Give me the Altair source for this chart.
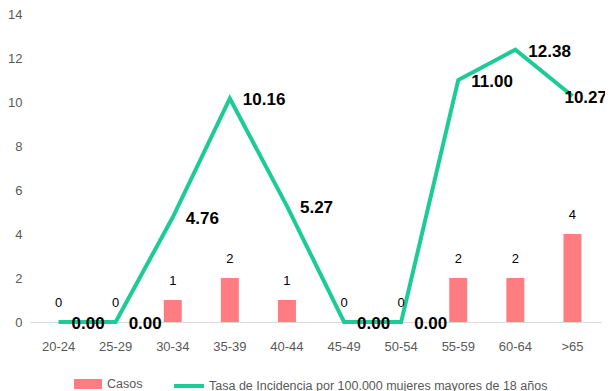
import altair as alt
import pandas as pd

grupos = ["20-24", "25-29", "30-34", "35-39", "40-44", "45-49", "50-54", "55-59", "60-64", ">65"]
casos = [0, 0, 1, 2, 1, 0, 0, 2, 2, 4]
tasa = [0.00, 0.00, 4.76, 10.16, 5.27, 0.00, 0.00, 11.00, 12.38, 10.27]
serie_barras = "Casos"
serie_linea = "Tasa de Incidencia por 100.000 mujeres mayores de 18 años"

df = pd.DataFrame({"grupo": grupos, "casos": casos, "tasa": tasa})
df["s_casos"] = serie_barras
df["s_tasa"] = serie_linea

FONT = "Liberation Sans"

x = alt.X(
    "grupo:N",
    sort=grupos,
    scale=alt.Scale(paddingInner=0, paddingOuter=0),
    axis=alt.Axis(
        title=None, labelAngle=0, ticks=False, domainColor="#D9D9D9", domainWidth=1,
        labelColor="#595959", labelFont=FONT, labelFontSize=13, labelPadding=18,
    ),
)
y_scale = alt.Scale(domain=[0, 14])
y_axis = alt.Axis(
    title=None, values=[0, 2, 4, 6, 8, 10, 12, 14], grid=False, domain=False, ticks=False,
    labelColor="#595959", labelFont=FONT, labelFontSize=13, labelPadding=8,
)

base = alt.Chart(df)

bars = base.mark_bar(size=18).encode(
    x=x,
    y=alt.Y("casos:Q", scale=y_scale, axis=y_axis),
    color=alt.Color(
        "s_casos:N",
        scale=alt.Scale(domain=[serie_barras], range=["#FF7C80"]),
        legend=alt.Legend(
            title=None, orient="none", legendX=48, legendY=360,
            symbolType="M-1.4,-0.5H1.4V0.5H-1.4Z", symbolSize=400, symbolStrokeWidth=0,
            labelFont=FONT, labelFontSize=12.5, labelColor="#595959", labelOffset=9, padding=0,
        ),
    ),
)

bar_text = base.mark_text(
    baseline="middle", dy=-19, fontSize=13, font=FONT, color="#000000"
).encode(x=x, y=alt.Y("casos:Q", scale=y_scale), text=alt.Text("casos:Q", format="d"))

line = base.mark_line(strokeWidth=4).encode(
    x=x,
    y=alt.Y("tasa:Q", scale=y_scale),
    stroke=alt.Stroke(
        "s_tasa:N",
        scale=alt.Scale(domain=[serie_linea], range=["#1CCB96"]),
        legend=alt.Legend(
            title=None, orient="none", legendX=142, legendY=355,
            symbolType="stroke", symbolSize=900, symbolStrokeWidth=4,
            labelFont=FONT, labelFontSize=12.5, labelColor="#595959", labelOffset=3,
            labelLimit=500, padding=0,
        ),
    ),
)

line_text = base.mark_text(
    align="left", baseline="middle", dx=13, dy=2, fontSize=17, fontWeight="bold",
    font=FONT, color="#000000",
).encode(x=x, y=alt.Y("tasa:Q", scale=y_scale), text=alt.Text("tasa:Q", format=".2f")
).transform_filter(alt.datum.grupo != ">65")

line_text_last = base.mark_text(
    align="left", baseline="middle", dx=-8, dy=2, fontSize=17, fontWeight="bold",
    font=FONT, color="#000000",
).encode(x=x, y=alt.Y("tasa:Q", scale=y_scale), text=alt.Text("tasa:Q", format=".2f")
).transform_filter(alt.datum.grupo == ">65")

chart = (
    alt.layer(bars, line, bar_text, line_text, line_text_last)
    .resolve_scale(color="independent", stroke="independent")
    .properties(
        width=571, height=308,
        autosize=alt.AutoSizeParams(type="none"),
        padding={"left": 22, "top": 6, "right": 4, "bottom": 69},
    )
    .configure_view(stroke=None)
)

chart.save("out.html", embed_options={"renderer": "svg", "actions": False})
